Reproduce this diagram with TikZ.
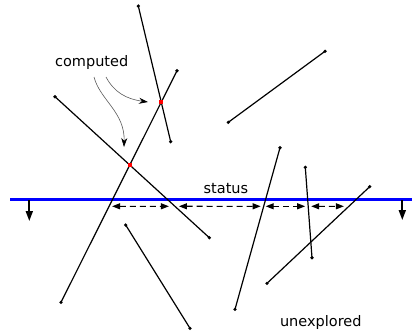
\documentclass[tikz,border=0pt]{standalone}
\usepackage{fontspec}
\setmainfont{DejaVu Sans}
\usetikzlibrary{arrows.meta,calc}
\begin{document}
\begin{tikzpicture}[x=1pt,y=-1pt,
  seg/.style={line width=1.2pt,black},
  endpt/.style={circle,fill=black,inner sep=0pt,minimum size=3.6pt},
  hit/.style={rectangle,fill=red,inner sep=0pt,minimum size=4.2pt},
  lbl/.style={font=\fontsize{14.5}{16}\selectfont,inner sep=0pt,anchor=base},
  sweep/.style={blue,line width=3.3pt},
  down/.style={line width=1.8pt,-{Triangle[length=10pt,width=7pt]}},
  gap/.style={line width=1.1pt,dash pattern=on 6pt off 4pt,
    {Triangle[length=8pt,width=6pt]}-{Triangle[length=8pt,width=6pt]},
    shorten <=3pt,shorten >=3pt},
  curved/.style={gray!70!black,line width=0.6pt,-{Stealth[black,length=9pt,width=6pt]}}]
\useasboundingbox (0,0) rectangle (412,335);

% sweep line
\coordinate (sw) at (10,199.3);
\coordinate (se) at (412,199.3);
\draw[sweep] (sw) -- (se);
\coordinate (dl1) at (29.3,200); \coordinate (dl2) at (29.3,221);
\coordinate (dr1) at (402.3,200); \coordinate (dr2) at (402.3,220);
\draw[down] (dl1) -- (dl2);
\draw[down] (dr1) -- (dr2);

% segment endpoints
\node[endpt] (a1) at (138.3,6) {};
\node[endpt] (a2) at (170.7,141.7) {};
\node[endpt] (b1) at (177,70.7) {};
\node[endpt] (b2) at (61,302.3) {};
\node[endpt] (c1) at (55,96.7) {};
\node[endpt] (c2) at (209.3,237.7) {};
\node[endpt] (d1) at (325,51.3) {};
\node[endpt] (d2) at (228.3,122.3) {};
\node[endpt] (e1) at (280,147.7) {};
\node[endpt] (e2) at (235,309.3) {};
\node[endpt] (f1) at (305.3,167.3) {};
\node[endpt] (f2) at (312,257.7) {};
\node[endpt] (g1) at (125.7,225) {};
\node[endpt] (g2) at (190,328.3) {};
\node[endpt] (h1) at (369.7,186.7) {};
\node[endpt] (h2) at (267,283.3) {};

\foreach \s in {a,b,c,d,e,f,g,h} \draw[seg] (\s1.center) -- (\s2.center);

% computed intersections
\node[hit] (ab) at (intersection of a1--a2 and b1--b2) {};
\node[hit] (bc) at (intersection of b1--b2 and c1--c2) {};

% status gaps
\coordinate (gl) at (0,206.3);
\coordinate (gr) at (412,206.3);
\coordinate (xb) at (intersection of b1--b2 and gl--gr);
\coordinate (xc) at (intersection of c1--c2 and gl--gr);
\coordinate (xe) at (intersection of e1--e2 and gl--gr);
\coordinate (xf) at (intersection of f1--f2 and gl--gr);
\coordinate (xh) at (intersection of h1--h2 and gl--gr);
\draw[gap] (xb) -- ($(xc)+(-3,0)$);
\draw[gap] ($(xc)+(1,0)$) -- (xe);
\draw[gap] ($(xe)+(-1,0)$) -- (xf);
\draw[gap] (xf) -- ($(xh)+(-2,0)$);

% labels
\node[lbl] (comp) at (91.7,66) {computed};
\node[lbl] (stat) at (225.9,193.3) {status};
\node[lbl] (unex) at (320.8,326.7) {unexplored};

\coordinate (k1s) at (106,77);
\coordinate (k1e) at (148,102);
\coordinate (k2s) at (94,77);
\coordinate (k2e) at (124,147);
\draw[curved] (k1s) .. controls (114,92) and (126,99) .. (k1e);
\draw[curved] (k2s) .. controls (100,100) and (125,112) .. (k2e);
\end{tikzpicture}
\end{document}
